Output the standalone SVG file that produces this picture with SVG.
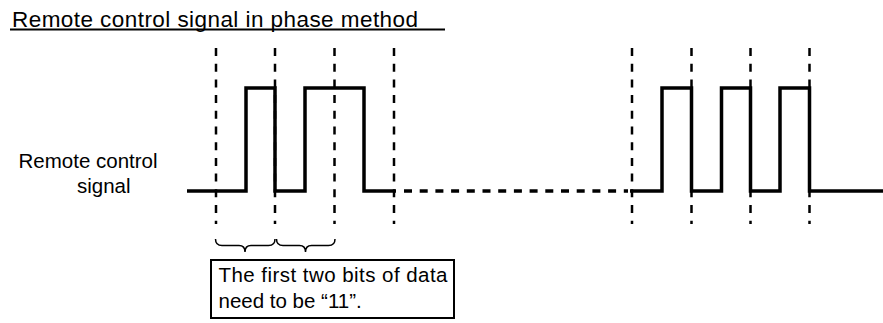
<svg xmlns="http://www.w3.org/2000/svg" width="883" height="323" viewBox="0 0 883 323">
<style>
text{font-family:"Liberation Sans",Arial,sans-serif;fill:#000}
.grid{stroke:#000;stroke-width:2.5;stroke-dasharray:8 7.7;fill:none}
.sig{stroke:#000;stroke-width:3.5;fill:none;stroke-linejoin:miter}
.sigd{stroke:#000;stroke-width:3.5;fill:none;stroke-dasharray:8 7.7}
.brace{stroke:#000;stroke-width:1.5;fill:none}
</style>
<rect width="883" height="323" fill="#fff"/>
<g id="title">
<text x="12" y="26.5" font-size="22.5" textLength="406" lengthAdjust="spacing">Remote control signal in phase method</text>
<line x1="10" y1="29.5" x2="445" y2="29.5" stroke="#000" stroke-width="2"/>
</g>
<g id="label">
<text x="18.5" y="168" font-size="20.5">Remote control</text>
<text x="77" y="192.5" font-size="20.5">signal</text>
</g>
<g id="gridlines">
<line class="grid" x1="216" y1="48" x2="216" y2="224"/>
<line class="grid" x1="275" y1="48" x2="275" y2="224"/>
<line class="grid" x1="334.5" y1="48" x2="334.5" y2="224"/>
<line class="grid" x1="394" y1="48" x2="394" y2="224"/>
<line class="grid" x1="632" y1="48" x2="632" y2="224"/>
<line class="grid" x1="691.5" y1="48" x2="691.5" y2="224"/>
<line class="grid" x1="750.5" y1="48" x2="750.5" y2="224"/>
<line class="grid" x1="809.5" y1="48" x2="809.5" y2="224"/>
</g>
<g id="connectors">
<path class="sig" d="M187,191 H246 V88 H275 V191 H305 V88 H364 V191 H396"/>
<path class="sigd" d="M404,191 H628"/>
<path class="sig" d="M630,191 H662 V88 H691.5 V191 H721.5 V88 H750.5 V191 H780 V88 H809.5 V191 H883"/>
</g>
<g id="braces">
<path class="brace" d="M215.5,239 Q215.5,245.5 222,245.5 H239 Q245,245.5 245,252 Q245,245.5 251,245.5 H268.5 Q275,245.5 275,239"/>
<path class="brace" d="M276.5,239 Q276.5,245.5 283,245.5 H299.5 Q305.5,245.5 305.5,252 Q305.5,245.5 311.5,245.5 H328.5 Q335,245.5 335,239"/>
</g>
<g id="note">
<rect x="211" y="260" width="243" height="58" fill="#fff" stroke="#000" stroke-width="2"/>
<text x="218.5" y="282" font-size="20.5" textLength="229" lengthAdjust="spacing">The first two bits of data</text>
<text x="218.5" y="307.5" font-size="20.5">need to be “11”.</text>
</g>
</svg>
